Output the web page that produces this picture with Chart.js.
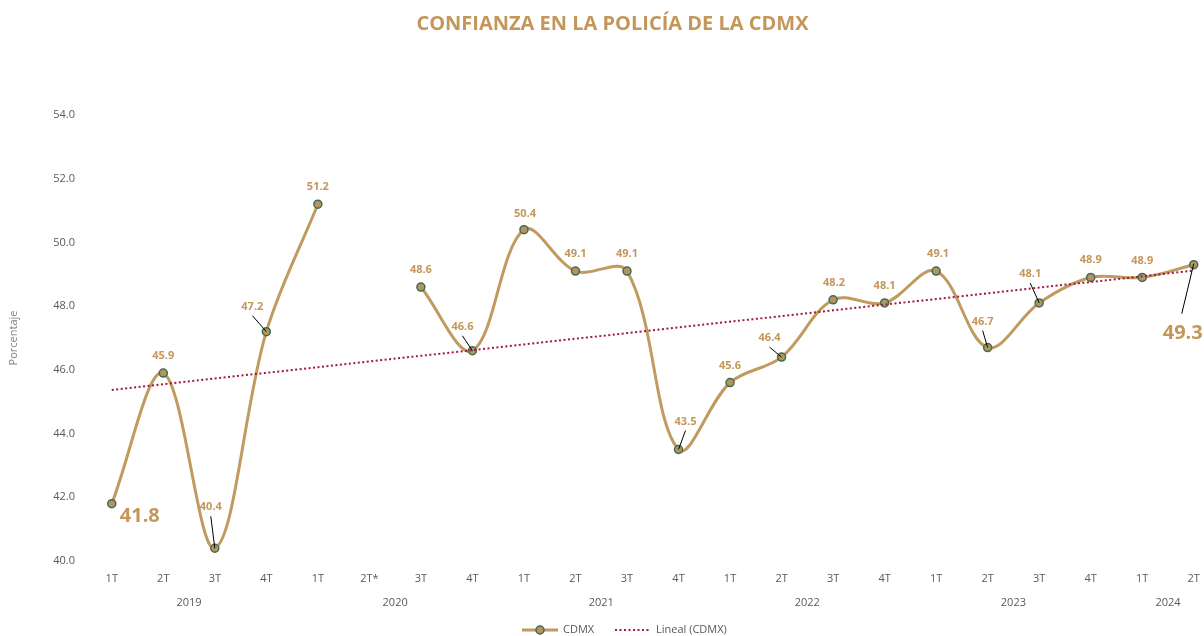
<!DOCTYPE html>
<html>
<head>
<meta charset="utf-8">
<script src="https://cdn.jsdelivr.net/npm/chart.js@4.4.1/dist/chart.umd.min.js"></script>
<style>
  html, body { margin: 0; padding: 0; background: #ffffff; overflow: hidden; width: 1204px; height: 636px; }
  canvas { display: block; }
</style>
</head>
<body>
<canvas id="chart" width="1225" height="636" style="width:1225px;height:636px"></canvas>
<script>
// Quarter labels along the x axis
const quarters = ['1T','2T','3T','4T','1T','2T*','3T','4T','1T','2T','3T','4T',
                  '1T','2T','3T','4T','1T','2T','3T','4T','1T','2T'];
// Year group labels and how many quarters each one spans
const years = ['2019','2020','2021','2022','2023','2024'];
const quartersPerYear = [4, 4, 4, 4, 4, 2];
// Confidence in CDMX police (percent); 2T 2020 has no survey
const confianza = [41.8, 45.9, 40.4, 47.2, 51.2, null, 48.6, 46.6, 50.4, 49.1, 49.1, 43.5,
                   45.6, 46.4, 48.2, 48.1, 49.1, 46.7, 48.1, 48.9, 48.9, 49.3];
// Y axis range and step
const yMin = 40, yMax = 54, yStep = 2;

// Value label placement relative to each point (px), leader lines, large first/last labels
const labelLayout = [
  {dx: 28, dy: 13, big: true},
  {dx: 0, dy: -17},
  {dx: -4, dy: -41, leader: true},
  {dx: -14, dy: -25, leader: true},
  {dx: 0, dy: -17},
  null,
  {dx: 0, dy: -17},
  {dx: -10, dy: -24, leader: true},
  {dx: 1, dy: -16},
  {dx: 0, dy: -17},
  {dx: 0, dy: -17},
  {dx: 7, dy: -28, leader: true},
  {dx: 0, dy: -17},
  {dx: -12, dy: -19, leader: true},
  {dx: 1, dy: -17},
  {dx: 0, dy: -17},
  {dx: 2, dy: -17},
  {dx: -5, dy: -26, leader: true},
  {dx: -9, dy: -29, leader: true},
  {dx: 0, dy: -18},
  {dx: 0, dy: -17},
  {dx: -11, dy: 69, big: true, leader: true, leaderFromTop: true}
];

// Least-squares linear trend over the available points (x = quarter position)
function linearTrend(values) {
  const pts = [];
  values.forEach((v, i) => { if (v !== null) pts.push([i + 1, v]); });
  const n = pts.length;
  const sx = pts.reduce((a, p) => a + p[0], 0);
  const sy = pts.reduce((a, p) => a + p[1], 0);
  const sxy = pts.reduce((a, p) => a + p[0] * p[1], 0);
  const sxx = pts.reduce((a, p) => a + p[0] * p[0], 0);
  const slope = (n * sxy - sx * sy) / (n * sxx - sx * sx);
  const icpt = (sy - slope * sx) / n;
  return values.map((_, i) => icpt + slope * (i + 1));
}
const tendencia = linearTrend(confianza);

const GOLD = '#C4965A';
const LINE = '#C09A5E';
const POINT_FILL = '#B8935B';
const POINT_EDGE = '#3B6D58';
const TREND = '#A3183E';
const GREY = '#595959';
const FONT = "'Open Sans', 'Noto Sans', sans-serif";

const decorations = {
  id: 'decorations',
  afterDatasetsDraw(chart) {
    const ctx = chart.ctx;
    const meta = chart.getDatasetMeta(1);
    ctx.save();
    // value labels and leader lines
    meta.data.forEach((pt, i) => {
      const v = confianza[i];
      const lay = labelLayout[i];
      if (v === null || !lay) return;
      const lx = pt.x + lay.dx, ly = pt.y + lay.dy;
      if (lay.leader) {
        const sx = lx + (lay.leaderFromTop ? -1 : 0);
        const sy = lay.leaderFromTop ? ly - 20 : ly + 9;
        ctx.beginPath();
        ctx.strokeStyle = '#000000';
        ctx.lineWidth = 1;
        ctx.moveTo(sx, sy);
        ctx.lineTo(pt.x, pt.y - (lay.leaderFromTop ? 1 : 0));
        ctx.stroke();
      }
      ctx.fillStyle = GOLD;
      ctx.textAlign = 'center';
      ctx.textBaseline = 'middle';
      ctx.font = lay.big ? `bold 20px ${FONT}` : `bold 11px ${FONT}`;
      ctx.fillText(v.toFixed(1), lx, ly);
    });
    ctx.restore();
  },
  afterDraw(chart) {
    const ctx = chart.ctx;
    const xs = chart.scales.x;
    ctx.save();
    // year group labels
    ctx.fillStyle = GREY;
    ctx.font = `11px ${FONT}`;
    ctx.textAlign = 'center';
    ctx.textBaseline = 'middle';
    let start = 0;
    years.forEach((y, k) => {
      const end = start + quartersPerYear[k] - 1;
      const cx = (xs.getPixelForValue(start) + xs.getPixelForValue(end)) / 2;
      ctx.fillText(y, cx, 603);
      start = end + 1;
    });
    // legend
    const ly = 630;
    ctx.strokeStyle = LINE;
    ctx.lineWidth = 3;
    ctx.setLineDash([]);
    ctx.beginPath();
    ctx.moveTo(522, ly); ctx.lineTo(558, ly);
    ctx.stroke();
    ctx.beginPath();
    ctx.arc(540, ly, 4, 0, Math.PI * 2);
    ctx.fillStyle = POINT_FILL;
    ctx.fill();
    ctx.lineWidth = 1.5;
    ctx.strokeStyle = POINT_EDGE;
    ctx.stroke();
    ctx.fillStyle = GREY;
    ctx.textAlign = 'left';
    ctx.fillText('CDMX', 563, ly);
    ctx.strokeStyle = TREND;
    ctx.lineWidth = 2;
    ctx.setLineDash([2, 2.5]);
    ctx.beginPath();
    ctx.moveTo(615, ly); ctx.lineTo(651, ly);
    ctx.stroke();
    ctx.setLineDash([]);
    ctx.fillText('Lineal (CDMX)', 656, ly);
    ctx.restore();
  }
};

new Chart(document.getElementById('chart'), {
  type: 'line',
  data: {
    labels: quarters,
    datasets: [
      {
        label: 'Lineal (CDMX)',
        data: tendencia,
        borderColor: TREND,
        borderWidth: 2,
        borderDash: [2, 2.5],
        pointRadius: 0,
        tension: 0,
        fill: false,
        order: 0
      },
      {
        label: 'CDMX',
        data: confianza,
        borderColor: LINE,
        borderWidth: 3,
        backgroundColor: POINT_FILL,
        pointBackgroundColor: POINT_FILL,
        pointBorderColor: POINT_EDGE,
        pointBorderWidth: 1.5,
        pointRadius: 4,
        tension: 0.35,
        spanGaps: false,
        fill: false,
        order: 1
      }
    ]
  },
  options: {
    responsive: false,
    animation: false,
    layout: { padding: { left: 0, right: 0, top: 0, bottom: 0 } },
    plugins: {
      legend: { display: false },
      tooltip: { enabled: false },
      title: {
        display: true,
        text: 'CONFIANZA EN LA POLICÍA DE LA CDMX',
        color: GOLD,
        font: { family: FONT, size: 20, weight: 'bold' },
        padding: { top: 12, bottom: 79 }
      }
    },
    scales: {
      x: {
        type: 'category',
        offset: true,
        grid: { display: false, drawTicks: false },
        border: { display: false },
        ticks: { color: GREY, font: { family: FONT, size: 11 }, padding: 11, maxRotation: 0, autoSkip: false },
        afterFit(scale) { scale.height = 75; }
      },
      y: {
        min: yMin,
        max: yMax,
        grid: { display: false, drawTicks: false },
        border: { display: false },
        ticks: {
          stepSize: yStep,
          color: GREY,
          font: { family: FONT, size: 11 },
          padding: 11,
          callback: (v) => Number(v).toFixed(1)
        },
        title: {
          display: true,
          text: 'Porcentaje',
          color: '#7F7F7F',
          font: { family: FONT, size: 11 },
          padding: { top: 7, bottom: 0 }
        },
        afterFit(scale) { scale.width = 86; }
      }
    }
  },
  plugins: [decorations]
});
</script>
</body>
</html>
